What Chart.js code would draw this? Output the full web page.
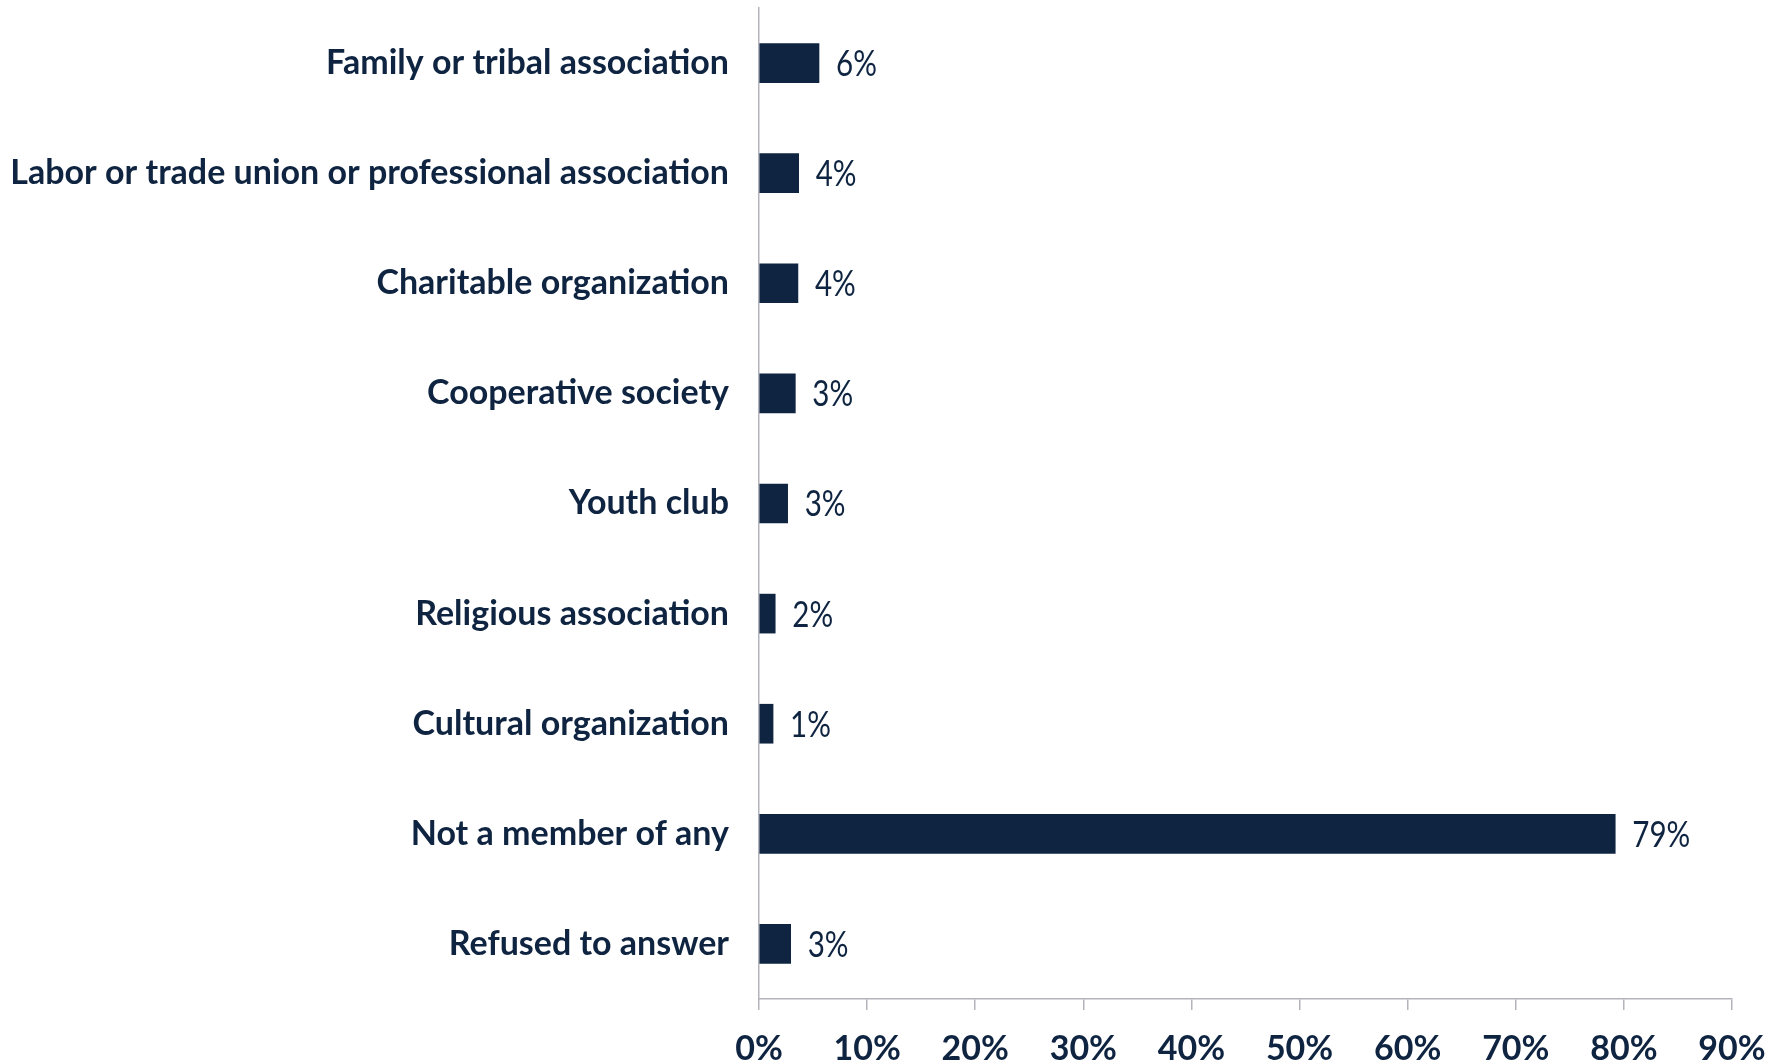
<!DOCTYPE html>
<html><head><meta charset="utf-8">
<script src="https://cdn.jsdelivr.net/npm/chart.js@4/dist/chart.umd.min.js"></script>
<style>html,body{margin:0;padding:0;background:#fff}#wrap{width:1785px;height:1062px}</style>
</head><body><div id="wrap"><canvas id="c" width="1785" height="1062"></canvas></div>
<script>
const categories = [
  "Family or tribal association",
  "Labor or trade union or professional association",
  "Charitable organization",
  "Cooperative society",
  "Youth club",
  "Religious association",
  "Cultural organization",
  "Not a member of any",
  "Refused to answer"
];
const values = [5.55, 3.67, 3.6, 3.36, 2.65, 1.5, 1.3, 79.2, 2.93];
const valueLabels = ["6%", "4%", "4%", "3%", "3%", "2%", "1%", "79%", "3%"];
const xTicks = [0, 10, 20, 30, 40, 50, 60, 70, 80, 90];

const NAVY = '#0f2440';
const GREY = '#b4b4bc';

const valueLabelPlugin = {
  id: 'valueLabels',
  afterDatasetsDraw(chart) {
    const ctx = chart.ctx;
    const meta = chart.getDatasetMeta(0);
    meta.data.forEach((bar, i) => {
      ctx.save();
      ctx.font = '37px Lato, sans-serif';
      ctx.fillStyle = NAVY;
      ctx.textAlign = 'left';
      ctx.textBaseline = 'middle';
      ctx.translate(bar.x + 17, bar.y + 1);
      ctx.scale(0.8, 1);
      ctx.fillText(valueLabels[i], 0, 0);
      ctx.restore();
    });
  }
};

new Chart(document.getElementById('c'), {
  type: 'bar',
  data: {
    labels: categories,
    datasets: [{
      data: values,
      backgroundColor: NAVY,
      borderWidth: 0,
      barThickness: 39
    }]
  },
  options: {
    indexAxis: 'y',
    responsive: false,
    animation: false,
    devicePixelRatio: 1,
    layout: { padding: { left: 0, right: 53, top: 8, bottom: 0 } },
    plugins: { legend: { display: false }, tooltip: { enabled: false } },
    scales: {
      x: {
        min: 0, max: 90,
        afterBuildTicks: (s) => { s.ticks = xTicks.map(v => ({ value: v })); },
        afterFit: (s) => { s.height = 63; },
        grid: { display: true, drawOnChartArea: false, drawTicks: true, tickLength: 11, color: GREY, lineWidth: 1.5 },
        border: { display: true, color: GREY, width: 1.5 },
        ticks: {
          padding: 19,
          color: NAVY,
          font: { family: 'Lato', weight: 'bold', size: 34 },
          callback: (v) => v + '%'
        }
      },
      y: {
        afterFit: (s) => { s.width = 759; s.paddingTop = 0; s.paddingBottom = 0; },
        grid: { display: false, drawTicks: false },
        border: { display: true, color: GREY, width: 1.5 },
        ticks: {
          padding: 30,
          color: NAVY,
          font: { family: 'Lato', weight: 'bold', size: 34 }
        }
      }
    }
  },
  plugins: [valueLabelPlugin]
});
</script>
</body></html>
